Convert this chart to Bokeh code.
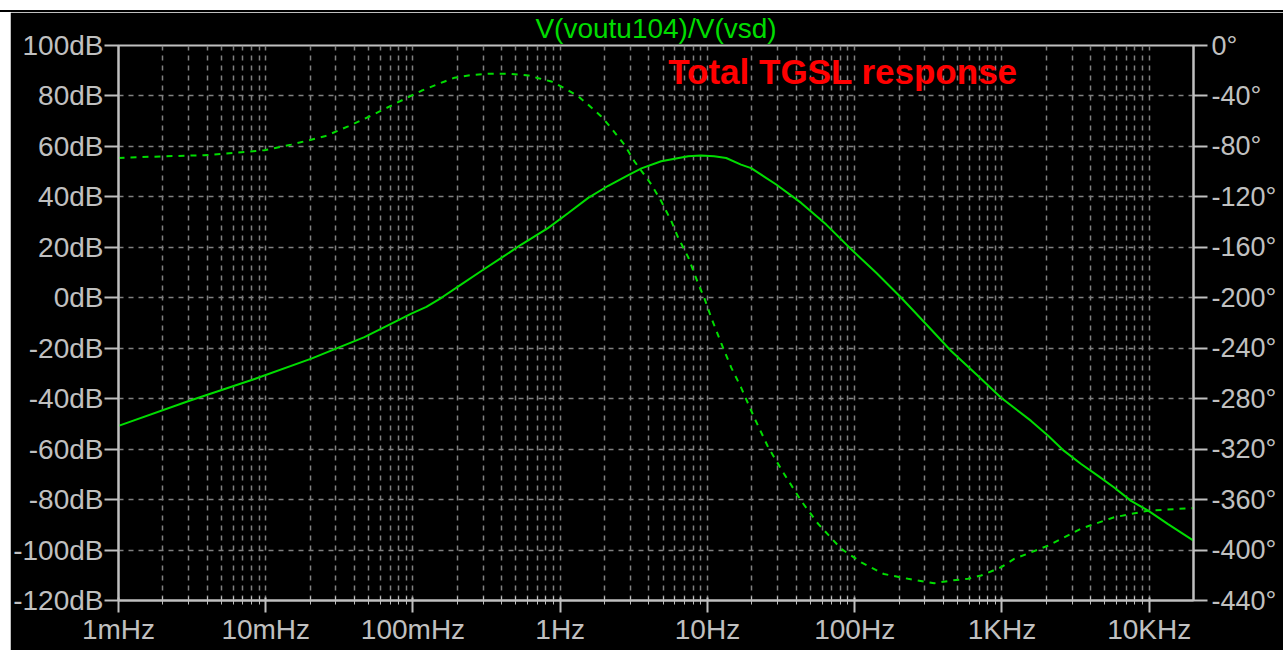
from bokeh.plotting import figure
from bokeh.models import Range1d, LinearAxis, FixedTicker, Label, Div
from bokeh.layouts import column
from bokeh.embed import file_html
from bokeh.resources import INLINE

# ---- data ----
freq_ticks = [0.001, 0.01, 0.1, 1, 10, 100, 1000, 10000]
freq_labels = ["1mHz", "10mHz", "100mHz", "1Hz", "10Hz", "100Hz", "1KHz", "10KHz"]

db_ticks = [-120, -100, -80, -60, -40, -20, 0, 20, 40, 60, 80, 100]
db_labels = ["-120dB", "-100dB", "-80dB", "-60dB", "-40dB", "-20dB", "0dB",
             "20dB", "40dB", "60dB", "80dB", "100dB"]

phase_ticks = [-440, -400, -360, -320, -280, -240, -200, -160, -120, -80, -40, 0]
phase_labels = ["-440°", "-400°", "-360°", "-320°", "-280°", "-240°", "-200°",
                "-160°", "-120°", "-80°", "-40°", "0°"]

# magnitude (dB) vs frequency (Hz)
mag_freq = [0.001, 0.003, 0.0084, 0.0204, 0.0468, 0.0975, 0.1233, 0.156, 0.213, 0.291,
            0.398, 0.544, 0.83, 1.135, 1.55, 2.12, 2.9, 3.56, 4.85, 7.4, 9.0,
            11.1, 13.4, 16.9, 19.8, 29.3, 43.3, 64.1, 94.7, 140, 207, 306, 452,
            669, 988, 1578, 2060, 2643, 3450, 4498, 5780, 7534, 9840, 13430, 20000]
mag_db = [-50.8, -40.9, -32.2, -24.1, -15.6, -6.3, -3.6, 0.0, 5.3, 10.6,
          15.8, 21.1, 27.7, 33.6, 39.6, 44.4, 48.6, 51.3, 54.1, 56.1, 56.4,
          56.1, 55.4, 52.8, 51.4, 44.9, 37.6, 29.0, 19.2, 9.9, 0.0, -10.5, -21.1,
          -30.3, -39.6, -48.8, -54.7, -60.7, -65.9, -70.6, -75.2, -80.5, -84.4, -89.7, -96.3]

# phase (degrees) vs frequency (Hz)
ph_freq = [0.001, 0.00205, 0.00384, 0.0098, 0.0149, 0.02515, 0.03626, 0.05358,
           0.07714, 0.114, 0.1641, 0.191, 0.249, 0.325, 0.4446, 0.607, 0.7101,
           0.87, 1.07, 1.327, 1.55, 1.901, 2.22, 2.724, 3.19, 4.15, 4.857, 5.67,
           6.337, 7.41, 8.66, 9.51, 10.61, 12.4, 14.51, 16.9, 20.78, 25.9, 33.22,
           43.3, 56.53, 80.9, 110.7, 158, 230.7, 347, 451.9, 589, 722.5, 988,
           1210, 2060, 3450, 5780, 9840, 20000]
ph_deg = [-89.2, -87.8, -87, -83, -78.6, -72, -64.1, -54.9,
          -45.6, -35.9, -28.5, -25.6, -23.4, -22.4, -22.4, -23.7, -25.9,
          -28.5, -33.8, -40.4, -47, -56.2, -65.4, -78.6, -91.8, -110, -123.5, -139,
          -152.5, -168, -189, -200, -215.8, -236, -255.4, -271, -295, -318.7, -339.8,
          -361, -379.3, -399, -409.7, -419, -422.8, -426.3, -424.2, -422.8, -420.2, -413.6,
          -407, -396.5, -383, -374, -368.8, -366.7]

title_text = "V(voutu104)/V(vsd)"
note_text = "Total TGSL response"

# ---- styling ----
GREEN = "#00dc00"
GRAY = "#c0c0c0"
GRID = "#808080"
FONT = "Liberation Sans"

p = figure(width=1273, height=638, x_axis_type="log",
           x_range=Range1d(0.001, 20000), y_range=Range1d(-120, 100),
           output_backend="svg", toolbar_location=None,
           min_border_left=107, min_border_right=90,
           min_border_top=32, min_border_bottom=50)
p.margin = (0, 0, 0, 10)
p.extra_y_ranges = {"phase": Range1d(-440, 0)}

p.background_fill_color = "black"
p.border_fill_color = "black"
p.outline_line_color = GRAY
p.outline_line_width = 2

p.title.text = title_text
p.title.align = "center"
p.title.vertical_align = "top"
p.title.text_color = GREEN
p.title.text_font = FONT
p.title.text_font_size = "28px"
p.title.text_font_style = "normal"
p.title.standoff = 0
p.title.offset = -3

minor = [m * 10.0 ** e for e in range(-3, 5) for m in range(2, 10) if m * 10.0 ** e < 20000]

# bottom axis
xa = p.xaxis[0]
xa.ticker = FixedTicker(ticks=freq_ticks, minor_ticks=minor)
xa.major_label_overrides = {t: l for t, l in zip(freq_ticks, freq_labels)}
xa.major_tick_in = 3
xa.major_tick_out = 12
xa.minor_tick_in = 4
xa.minor_tick_out = 4

# left axis
ya = p.yaxis[0]
ya.ticker = FixedTicker(ticks=db_ticks)
ya.major_label_overrides = {t: l for t, l in zip(db_ticks, db_labels)}
ya.major_tick_in = 0
ya.major_tick_out = 14

# right axis
ra = LinearAxis(y_range_name="phase", ticker=FixedTicker(ticks=phase_ticks))
ra.major_label_overrides = {t: l for t, l in zip(phase_ticks, phase_labels)}
ra.major_tick_in = 0
ra.major_tick_out = 14
p.add_layout(ra, "right")

for ax in (xa, ya, ra):
    ax.axis_line_color = GRAY
    ax.axis_line_width = 2
    ax.major_tick_line_color = GRAY
    ax.major_tick_line_width = 2
    ax.minor_tick_line_color = GRAY
    ax.minor_tick_line_width = 1
    ax.major_label_text_color = GRAY
    ax.major_label_text_font = FONT
    ax.major_label_text_font_size = "28px"
    ax.major_label_standoff = 1
ya.minor_tick_line_color = None
ra.minor_tick_line_color = None
ra.major_label_text_font_size = "27px"
ra.major_label_standoff = 4

p.xgrid.ticker = xa.ticker
p.xgrid.grid_line_color = GRID
p.xgrid.grid_line_dash = "5 5"
p.xgrid.grid_line_width = 1.5
p.xgrid.minor_grid_line_color = GRID
p.xgrid.minor_grid_line_dash = "5 5"
p.xgrid.minor_grid_line_width = 1.5
p.ygrid.ticker = ya.ticker
p.ygrid.grid_line_color = GRID
p.ygrid.grid_line_dash = "5 5"
p.ygrid.grid_line_width = 1.5

# curves
p.line(mag_freq, mag_db, line_color=GREEN, line_width=2)
p.line(ph_freq, ph_deg, line_color=GREEN, line_width=2, line_dash="6 6",
       y_range_name="phase")

p.add_layout(Label(x=5.42, y=89.7, text=note_text, text_align="left",
                   text_baseline="alphabetic", text_color="#ff0000",
                   text_font=FONT, text_font_size="35px",
                   text_font_style="bold"))

top = Div(text='<div style="width:1283px;height:9px;background:white;'
               'border-bottom:2px solid black"></div>',
          width=1283, height=12, margin=0)

layout = column(top, p, spacing=0, margin=0)

open("out.html", "w").write(file_html(layout, INLINE))
